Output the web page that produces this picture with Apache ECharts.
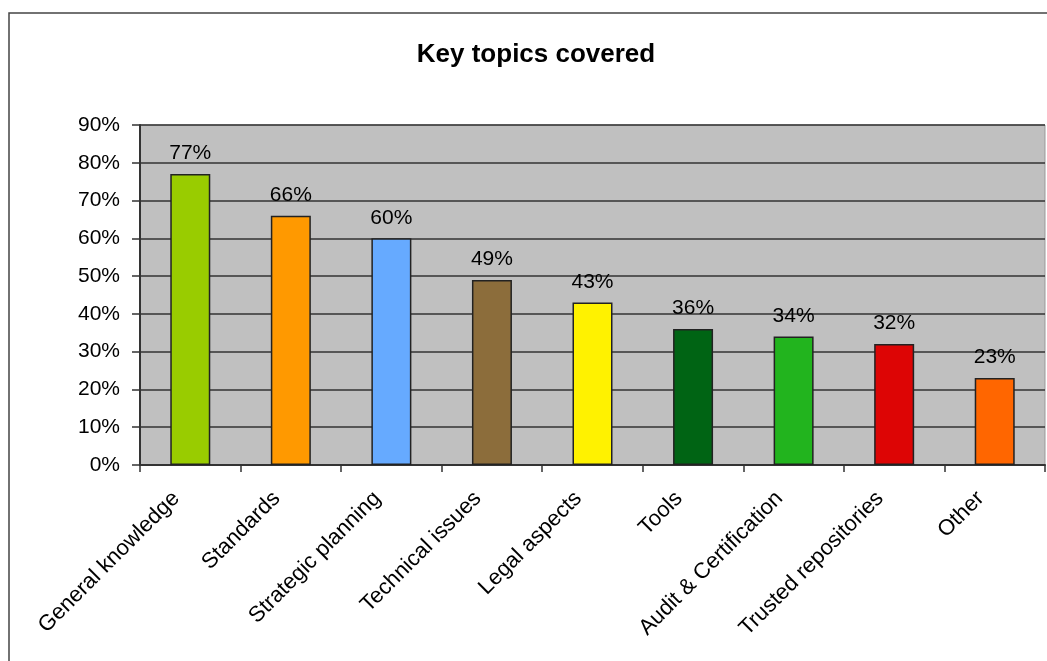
<!DOCTYPE html>
<html><head><meta charset="utf-8">
<script src="https://cdn.jsdelivr.net/npm/echarts@6/dist/echarts.min.js"></script>
<style>html,body{margin:0;padding:0;background:#fff}#c{width:1047px;height:661px}</style>
</head><body><div id="c"></div>
<script>
var categories = ["General knowledge","Standards","Strategic planning","Technical issues","Legal aspects","Tools","Audit & Certification","Trusted repositories","Other"];
var values = [77,66,60,49,43,36,34,32,23];
var barColors = ["#99CC00","#FF9900","#66AAFF","#8C6D3B","#FFF200","#006414","#22B41E","#DD0505","#FF6600"];
var yTicks = [0,10,20,30,40,50,60,70,80,90];

var chart = echarts.init(document.getElementById('c'));
var font = 'Liberation Sans, Arial, sans-serif';
chart.setOption({
  animation:false,
  backgroundColor:'#fff',
  title:{text:'Key topics covered',left:531,top:37,textAlign:'center',
    textStyle:{fontFamily:font,fontSize:26,fontWeight:'bold',color:'#000'}},
  graphic:[{type:'rect',shape:{x:9,y:13,width:1100,height:700},style:{fill:'none',stroke:'#444',lineWidth:1.5},silent:true,z:-1}],
  grid:{left:140,top:125,right:2,bottom:196,show:true,backgroundColor:'#C0C0C0',borderColor:'#999',borderWidth:1},
  xAxis:{type:'category',data:categories,
    axisLine:{lineStyle:{color:'#333',width:2}},
    axisTick:{show:true,length:7,lineStyle:{color:'#333',width:1.5}},
    axisLabel:{rotate:45,margin:16,padding:[0,20,0,0],fontFamily:font,fontSize:22,color:'#000',interval:0}},
  yAxis:{type:'value',min:0,max:90,interval:10,
    axisLine:{show:true,lineStyle:{color:'#333',width:2}},
    axisTick:{show:true,length:8,lineStyle:{color:'#333',width:1.5}},
    splitLine:{lineStyle:{color:'#333',width:1.5}},
    axisLabel:{formatter:function(v){return yTicks.indexOf(v)>=0? v+'%':'';},margin:20,fontFamily:font,fontSize:21,color:'#000'}},
  series:[{type:'bar',barWidth:40,
    data:values.map(function(v,i){return {value:v,itemStyle:{color:barColors[i],borderColor:'#222',borderWidth:1.5}};}),
    label:{show:true,position:'top',distance:10,formatter:'{c}%',fontFamily:font,fontSize:21,color:'#000'}}]
});
</script></body></html>
